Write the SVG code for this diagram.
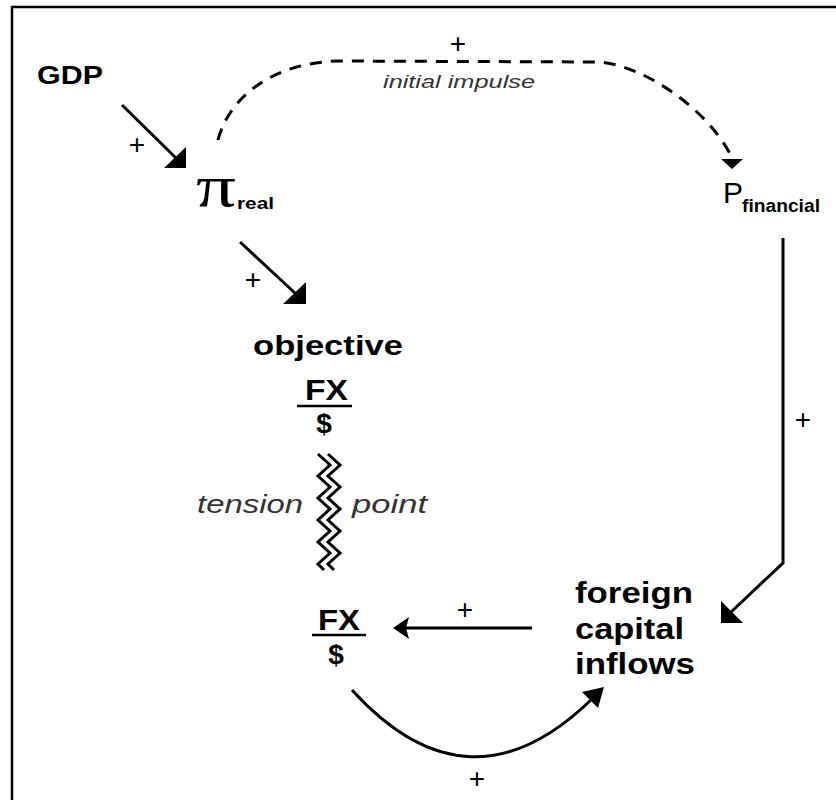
<svg xmlns="http://www.w3.org/2000/svg" width="836" height="800" viewBox="0 0 836 800">
<style>
.b{font-family:"Liberation Sans",Arial,sans-serif;font-weight:bold;fill:#000}
.r{font-family:"Liberation Sans",Arial,sans-serif;fill:#000}
.it{font-family:"Liberation Sans",Arial,sans-serif;font-style:italic}
.pl{font-family:"Liberation Sans",Arial,sans-serif;font-size:28px;fill:#000;text-anchor:middle}
.ln{fill:none;stroke:#000;stroke-width:3}
.ah{fill:#000;stroke:none}
</style>
<rect width="836" height="800" fill="#fff"/>
<path d="M12,800 V7 H836" fill="none" stroke="#000" stroke-width="2.5"/>

<g id="gdp"><text class="b" x="37" y="84" font-size="26" textLength="66" lengthAdjust="spacingAndGlyphs">GDP</text></g>
<g id="pi-real">
<text x="196" y="206" font-family="'Liberation Serif','Times New Roman',serif" font-size="60" textLength="40" lengthAdjust="spacingAndGlyphs">π</text>
<text class="b" x="237" y="209" font-size="16" textLength="37" lengthAdjust="spacingAndGlyphs">real</text>
</g>
<g id="p-financial">
<text class="r" x="723" y="203" font-size="30">P</text>
<text class="b" x="742" y="212" font-size="19" textLength="78" lengthAdjust="spacingAndGlyphs">financial</text>
</g>
<g id="objective-fx">
<text class="b" x="253" y="355" font-size="28" textLength="150" lengthAdjust="spacingAndGlyphs">objective</text>
<text class="b" x="305" y="400" font-size="30" textLength="43" lengthAdjust="spacingAndGlyphs">FX</text>
<line x1="297" y1="406" x2="352" y2="406" stroke="#000" stroke-width="2.5"/>
<text class="b" x="324" y="433" font-size="28" text-anchor="middle">$</text>
</g>
<g id="tension">
<text class="it" x="197" y="513" font-size="26" fill="#333" textLength="106" lengthAdjust="spacingAndGlyphs">tension</text>
<text class="it" x="352" y="513" font-size="26" fill="#333" textLength="75" lengthAdjust="spacingAndGlyphs">point</text>
<path class="ln" stroke-width="2.5" d="M318,454 L330,465 L318,476 L330,487 L318,498 L330,509 L318,520 L330,531 L318,542 L330,553 L318,564 L324,570"/>
<path class="ln" stroke-width="2.5" d="M328,454 L340,465 L328,476 L340,487 L328,498 L340,509 L328,520 L340,531 L328,542 L340,553 L328,564 L334,570"/>
</g>
<g id="fx">
<text class="b" x="318" y="630" font-size="30" textLength="42" lengthAdjust="spacingAndGlyphs">FX</text>
<line x1="312" y1="635" x2="366" y2="635" stroke="#000" stroke-width="2.5"/>
<text class="b" x="336" y="664" font-size="28" text-anchor="middle">$</text>
</g>
<g id="foreign-capital-inflows">
<text class="b" x="575" y="603" font-size="29" textLength="118" lengthAdjust="spacingAndGlyphs">foreign</text>
<text class="b" x="575" y="639" font-size="29" textLength="109" lengthAdjust="spacingAndGlyphs">capital</text>
<text class="b" x="575" y="674" font-size="29" textLength="120" lengthAdjust="spacingAndGlyphs">inflows</text>
</g>

<g id="connectors">
<line class="ln" x1="122" y1="105" x2="176" y2="158"/>
<polygon class="ah" points="186,168 164,168 186,147"/>
<text class="pl" x="137" y="154">+</text>

<line class="ln" x1="240" y1="242" x2="296" y2="294"/>
<polygon class="ah" points="306,304 283,304 306,282"/>
<text class="pl" x="253" y="289">+</text>

<path class="ln" stroke-dasharray="12,9" d="M218,140 C228,100 270,62 340,61 L595,62 C640,62 710,110 732,158"/>
<polygon class="ah" points="732,169 721,159 743,159"/>
<text class="pl" x="458" y="53">+</text>
<text class="it" x="383" y="88" font-size="19" fill="#333" textLength="152" lengthAdjust="spacingAndGlyphs">initial impulse</text>

<path class="ln" d="M783,238 V563 L730,613"/>
<polygon class="ah" points="721,623 721,601 743,623"/>
<text class="pl" x="803" y="429">+</text>

<line class="ln" x1="532" y1="628" x2="405" y2="628"/>
<polygon class="ah" points="393,628 409,617 406,628 409,639"/>
<text class="pl" x="465" y="619">+</text>

<path class="ln" d="M352,690 Q470,820 594,697"/>
<polygon class="ah" points="604,687 582,692 598,708"/>
<text class="pl" x="477" y="788">+</text>
</g>
</svg>
